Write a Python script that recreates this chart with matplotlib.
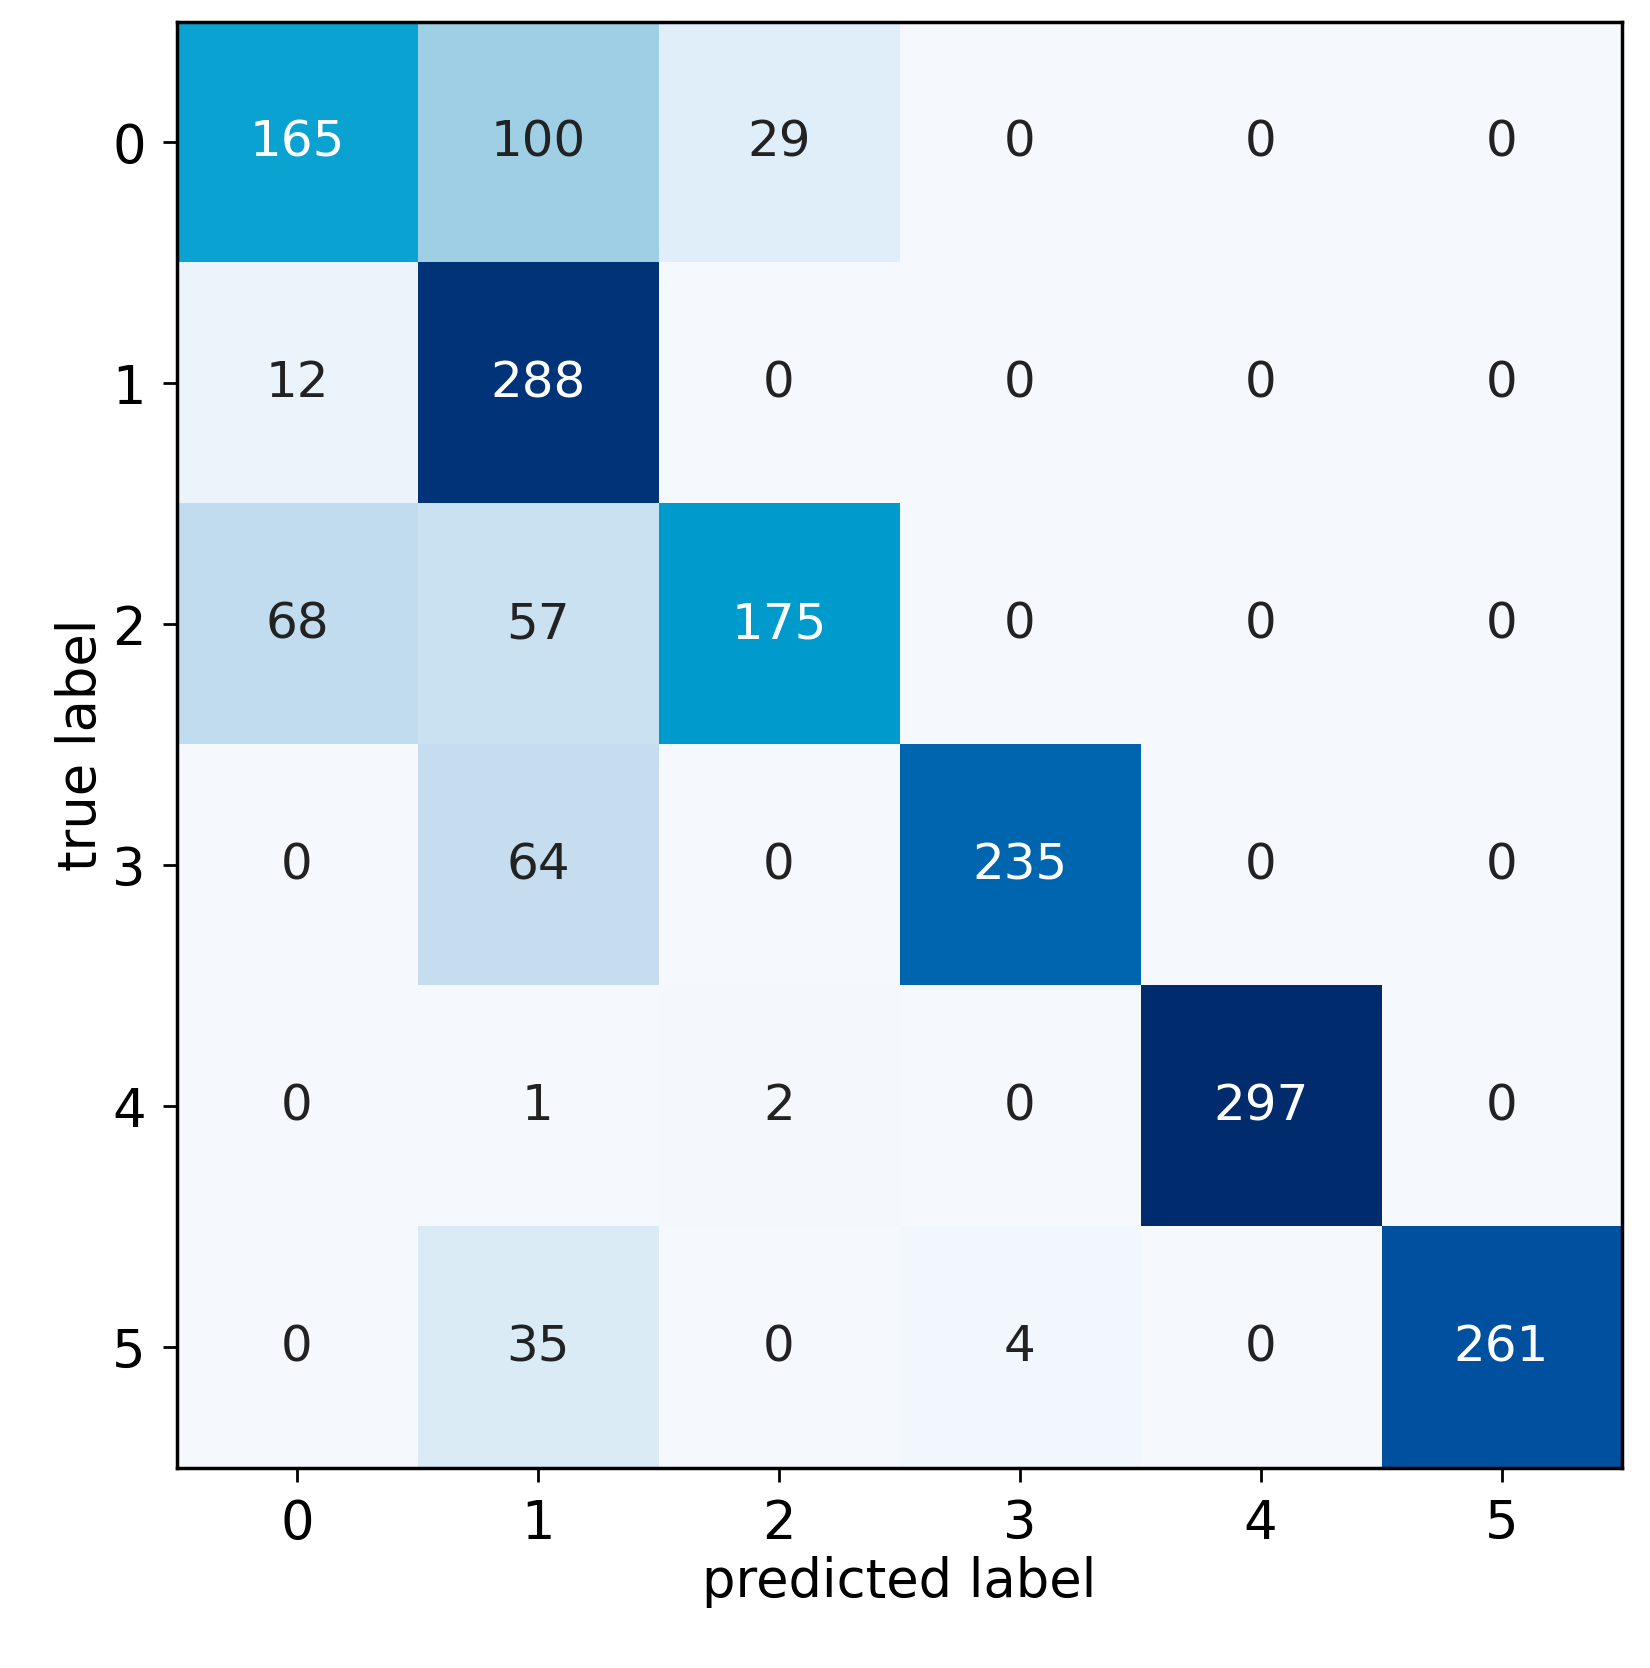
import matplotlib
matplotlib.use("Agg")
import matplotlib.pyplot as plt
import numpy as np
from matplotlib.colors import LinearSegmentedColormap

labels = ["0", "1", "2", "3", "4", "5"]
row0 = [165, 100, 29, 0, 0, 0]
row1 = [12, 288, 0, 0, 0, 0]
row2 = [68, 57, 175, 0, 0, 0]
row3 = [0, 64, 0, 235, 0, 0]
row4 = [0, 1, 2, 0, 297, 0]
row5 = [0, 35, 0, 4, 0, 261]
cm = np.array([row0, row1, row2, row3, row4, row5])

cmap = LinearSegmentedColormap.from_list("cm", [
    (0.0, "#f5f9fe"), (0.1, "#deeef8"), (0.23, "#c2dcef"), (0.34, "#9ecfe5"),
    (0.57, "#00a0d0"), (0.79, "#0066b0"), (0.88, "#0050a0"), (1.0, "#002b6c")])

fig = plt.figure(figsize=(16.5, 16.68), dpi=100)
ax = fig.add_axes([0.107, 0.12, 0.876, 0.867])
ax.imshow(cm, cmap=cmap, vmin=0, vmax=cm.max(), aspect="auto")
thresh = cm.max() / 2
for i in range(cm.shape[0]):
    for j in range(cm.shape[1]):
        ax.text(j, i, str(cm[i, j]), ha="center", va="center", fontsize=36,
                color="white" if cm[i, j] > thresh else "#222222")
ax.set_xticks(range(len(labels)))
ax.set_xticklabels(labels)
ax.set_yticks(range(len(labels)))
ax.set_yticklabels(labels)
ax.tick_params(labelsize=38, length=10, width=2, pad=12)
ax.set_xlabel("predicted label", fontsize=38)
ax.set_ylabel("true label", fontsize=38)
for s in ax.spines.values():
    s.set_linewidth(2.5)
fig.savefig("out.png", dpi=100)
